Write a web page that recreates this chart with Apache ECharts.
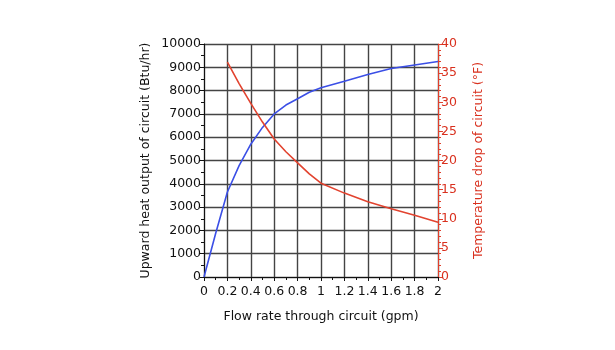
<!DOCTYPE html>
<html>
<head>
<meta charset="utf-8">
<script src="https://cdn.jsdelivr.net/npm/echarts@6/dist/echarts.min.js"></script>
<style>
html,body{margin:0;padding:0;background:#fff;}
#chart{width:615px;height:350px;}
</style>
</head>
<body>
<div id="chart"></div>
<script>
const flowHeat = [0, 0.1, 0.2, 0.3, 0.4, 0.5, 0.6, 0.7, 0.8, 0.9, 1.0, 1.2, 1.4, 1.6, 1.8, 2.0];
const heatOutput = [0, 1880, 3650, 4780, 5700, 6420, 7000, 7380, 7650, 7930, 8120, 8400, 8690, 8950, 9100, 9250];
const flowTemp = [0.2, 0.3, 0.4, 0.5, 0.6, 0.7, 0.8, 0.9, 1.0, 1.2, 1.4, 1.6, 1.8, 2.0];
const tempDrop = [36.9, 33.2, 29.8, 26.6, 23.7, 21.5, 19.6, 17.7, 16.1, 14.4, 12.9, 11.7, 10.6, 9.4];

const font = 'DejaVu Sans';
const chart = echarts.init(document.getElementById('chart'));
chart.setOption({
  animation: false,
  grid: {left: 204, right: 177, top: 44, bottom: 73, containLabel: false},
  xAxis: {
    type: 'value', min: 0, max: 2, interval: 0.2,
    name: 'Flow rate through circuit (gpm)', nameLocation: 'middle', nameGap: 33,
    nameTextStyle: {fontFamily: font, fontSize: 12.5, color: '#111'},
    axisLine: {show: true, lineStyle: {color: '#111', width: 1}},
    axisTick: {show: true, length: 4, lineStyle: {color: '#111'}},
    minorTick: {show: true, splitNumber: 2, length: 3, lineStyle: {color: '#111'}},
    axisLabel: {fontFamily: font, fontSize: 12.5, color: '#111', margin: 8},
    splitLine: {show: true, lineStyle: {color: '#444', width: 1.4}}
  },
  yAxis: [{
    type: 'value', min: 0, max: 10000, interval: 1000, position: 'left',
    name: 'Upward heat output of circuit (Btu/hr)', nameLocation: 'middle', nameGap: 52,
    nameTextStyle: {fontFamily: font, fontSize: 12.5, color: '#111'},
    axisLine: {show: true, lineStyle: {color: '#111', width: 1}},
    axisTick: {show: true, length: 4, lineStyle: {color: '#111'}},
    minorTick: {show: true, splitNumber: 2, length: 3, lineStyle: {color: '#111'}},
    axisLabel: {fontFamily: font, fontSize: 12.5, color: '#111', margin: 3, formatter: v => String(v)},
    splitLine: {show: true, lineStyle: {color: '#444', width: 1.4}}
  }, {
    type: 'value', min: 0, max: 40, interval: 5, position: 'right',
    name: 'Temperature drop of circuit (°F)', nameLocation: 'middle', nameGap: 34,
    nameRotate: 90,
    nameTextStyle: {fontFamily: font, fontSize: 12.5, color: '#d9301e'},
    axisLine: {show: true, lineStyle: {color: '#e0402c', width: 1}},
    axisTick: {show: true, length: 5, lineStyle: {color: '#e0402c'}},
    minorTick: {show: true, splitNumber: 5, length: 3, lineStyle: {color: '#e0402c'}},
    axisLabel: {fontFamily: font, fontSize: 12.5, color: '#d9301e', margin: 3},
    splitLine: {show: false}
  }],
  series: [{
    type: 'line', yAxisIndex: 0, showSymbol: false, smooth: false,
    data: flowHeat.map((x, i) => [x, heatOutput[i]]),
    lineStyle: {color: '#3b4fe6', width: 1.6}
  }, {
    type: 'line', yAxisIndex: 1, showSymbol: false, smooth: false,
    data: flowTemp.map((x, i) => [x, tempDrop[i]]),
    lineStyle: {color: '#e2432f', width: 1.6}
  }]
});
</script>
</body>
</html>
